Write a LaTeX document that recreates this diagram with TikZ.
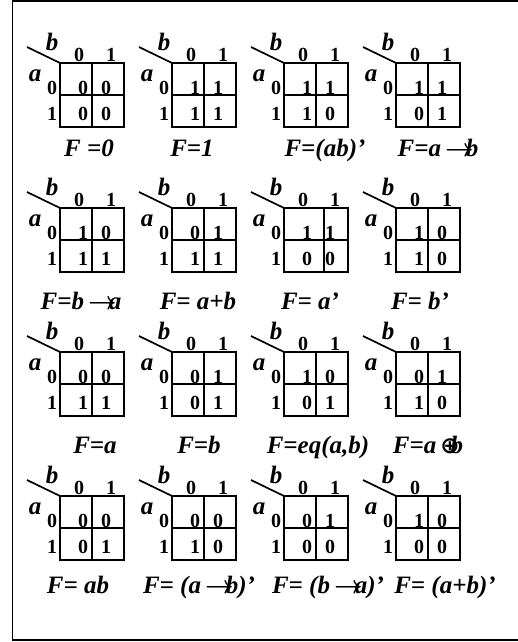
\documentclass[tikz,border=0pt]{standalone}
\usepackage{fontspec}
\setmainfont{Liberation Serif}
\newfontfamily\symfam{DejaVu Sans}
\usetikzlibrary{positioning}
\newcommand{\imp}{\,{\boldmath$\rightarrow$}\kern-0.32em}
\newcommand{\xor}{\,{\symfam\fontsize{23}{23}\selectfont\bfseries ⊕}\kern-0.36em}

\begin{document}
\begin{tikzpicture}[x=1pt,y=-1pt,line width=1.7pt,
  every node/.style={inner sep=0pt},
  digit/.style={font=\fontsize{20}{20}\selectfont\bfseries},
  varlbl/.style={font=\fontsize{25}{25}\selectfont\bfseries\itshape},
  fcap/.style={anchor=base,font=\fontsize{25}{25}\selectfont\bfseries\itshape}]
  \useasboundingbox (0,0) rectangle (518,642);
  % outer frame
  \draw[line width=1.5pt] (12.5,1) rectangle (540,640);
  % the sixteen maps: number/left/top/values/divider/caption
  \foreach \n/\lx/\ty/\va/\vb/\vc/\vd/\dv/\cx/\cy/\fn in {
    1/60/63/0/0/0/0/32/89/156/{F =0},
    2/172/63/1/1/1/1/32/192/156/{F=1},
    3/284/63/1/1/1/0/32/325/156/{F=(ab)’},
    4/396/63/1/1/0/1/32/438/156/{F=a\imp b},
    5/60/208/1/0/1/1/32/81/309/{F=b\imp a},
    6/172/208/0/1/1/1/32/198/309/{F= a+b},
    7/284/208/1/1/0/0/40/310/309/{F= a’},
    8/396/208/1/0/1/0/32/420/309/{F= b’},
    9/60/352/0/0/1/1/32/95/453/{F=a},
    10/172/352/0/1/0/1/32/199/453/{F=b},
    11/284/352/1/0/0/1/32/318/453/{F=eq(a,b)},
    12/396/352/0/1/1/0/32/428/453/{F=a\xor b},
    13/60/496/0/0/0/1/32/78/593/{F= ab},
    14/172/496/0/0/1/0/32/199/593/{F= (a\imp b)’},
    15/284/496/0/1/0/0/32/328/593/{F= (b\imp a)’},
    16/396/496/1/0/0/0/32/445/593/{F= (a+b)’}}
  {
    \coordinate (m\n-nw) at (\lx,\ty);
    \coordinate (m\n-tick) at (\lx-33,\ty-16);
    \draw (m\n-nw) rectangle ++(64,64);
    \draw (\lx,\ty+32) -- ++(64,0);
    \draw (\lx+\dv,\ty) -- ++(0,64);
    \draw (m\n-tick) -- (m\n-nw);
    \node[varlbl] (m\n-b) at (\lx-8,\ty-21) {b};
    \node[varlbl] (m\n-a) at (\lx-25,\ty+13) {a};
    \node[digit] (m\n-c0) at (\lx+19,\ty-8) {0};
    \node[digit] (m\n-c1) at (\lx+51,\ty-8) {1};
    \node[digit] (m\n-r0) at (\lx-8,\ty+25) {0};
    \node[digit] (m\n-r1) at (\lx-8,\ty+51) {1};
    \node[digit] (m\n-v00) at (\lx+23,\ty+25) {\va};
    \node[digit] (m\n-v01) at (\lx+46,\ty+25) {\vb};
    \node[digit] (m\n-v10) at (\lx+23,\ty+51) {\vc};
    \node[digit] (m\n-v11) at (\lx+46,\ty+51) {\vd};
    \node[fcap] (m\n-f) at (\cx,\cy) {\fn};
  }
\end{tikzpicture}
\end{document}
